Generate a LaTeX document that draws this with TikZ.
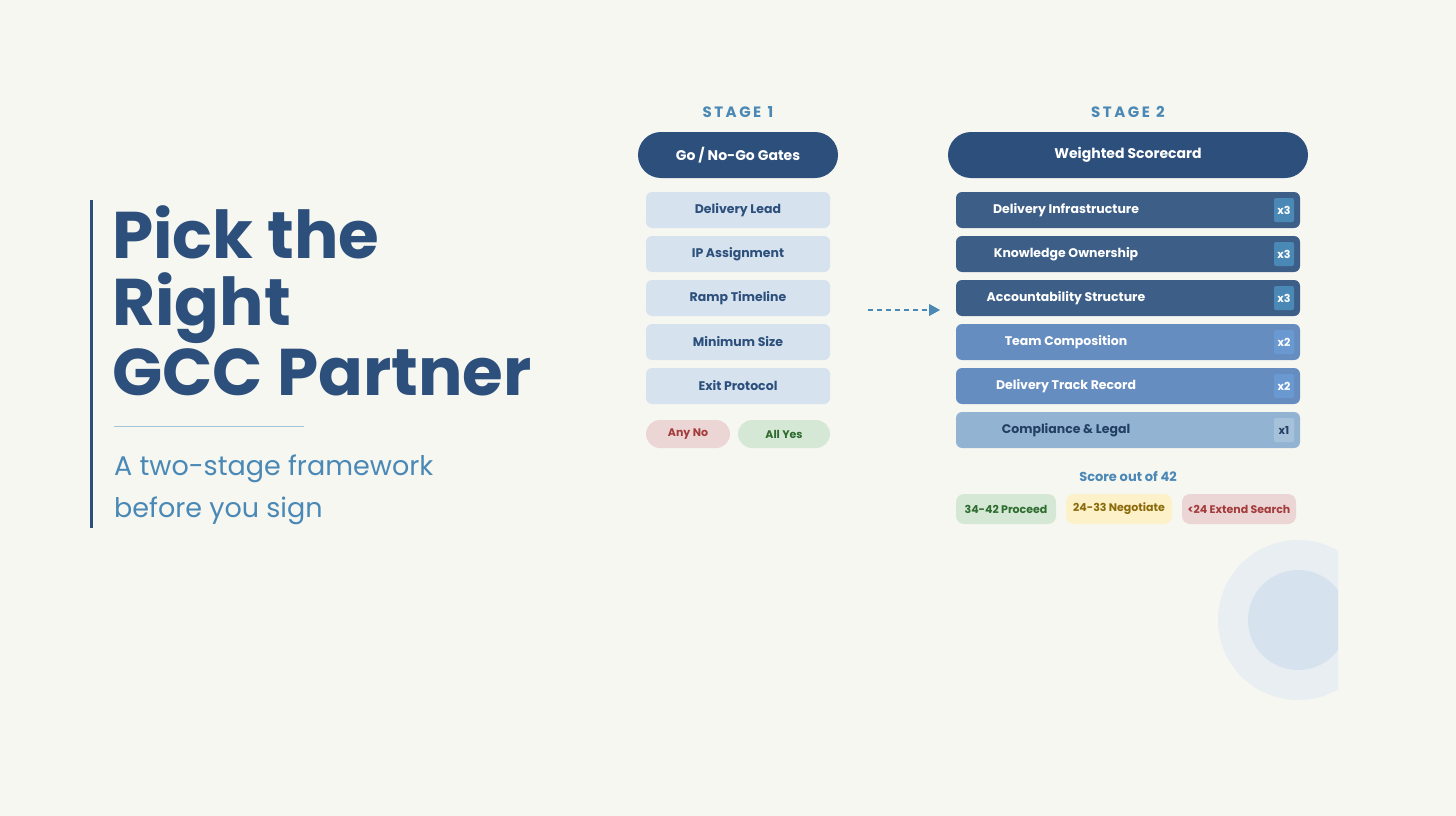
\documentclass[tikz,border=0pt]{standalone}
\usepackage{fontspec}
\setmainfont{Poppins}
\usetikzlibrary{arrows.meta}
\begin{document}
\begin{tikzpicture}[x=1pt,y=-1pt,
  gate/.style={rounded corners=6pt,fill=gatefill,text=navy,font=\fontsize{12.5}{14}\selectfont\bfseries,minimum width=184pt,minimum height=36pt,inner sep=0pt},
  pillhead/.style={rounded corners=23pt,fill=navy,text=white,font=\fontsize{14}{16}\selectfont\bfseries,minimum height=46pt,inner sep=0pt},
  row/.style={rounded corners=6pt,minimum width=344pt,minimum height=36pt,inner sep=0pt},
  rowtxt/.style={font=\fontsize{12.5}{14}\selectfont\bfseries},
  badge/.style={rounded corners=2pt,minimum width=20pt,minimum height=24pt,inner sep=0pt,font=\fontsize{11}{12}\selectfont\bfseries},
  tag/.style={rounded corners=8pt,minimum height=30pt,inner sep=0pt,font=\fontsize{11}{12}\selectfont\bfseries},
  stage/.style={text=midblue,font=\fontsize{15}{16}\selectfont\bfseries}]
\definecolor{bg}{HTML}{F7F7F2}
\definecolor{navy}{HTML}{2C4F7C}
\definecolor{midblue}{HTML}{4A88B5}
\definecolor{gatefill}{HTML}{D6E3EF}
\definecolor{rdark}{HTML}{3D5F87}
\definecolor{rmid}{HTML}{668DC0}
\definecolor{rlight}{HTML}{92B4D2}
\definecolor{bdark}{HTML}{4A88B5}
\definecolor{bmid}{HTML}{6A98D0}
\definecolor{blight}{HTML}{A6C2DB}
\definecolor{redf}{HTML}{ECD5D5}\definecolor{redt}{HTML}{A33B3B}
\definecolor{grnf}{HTML}{D5E8D5}\definecolor{grnt}{HTML}{2E6B2E}
\definecolor{yelf}{HTML}{FCF1C8}\definecolor{yelt}{HTML}{8A6A0A}
\fill[bg] (0,0) rectangle (1456,816);
\useasboundingbox (0,0) rectangle (1456,816);
% circles
\begin{scope}
\clip (1150,500) rectangle (1338,720);
\fill[color=gatefill!45!bg] (1298,620) circle (80);
\fill[color=gatefill] (1298,620) circle (50);
\end{scope}
% left
\fill[navy] (90,200) rectangle (93,528);
\node[anchor=base west,text=navy,font=\fontsize{66}{68}\selectfont\bfseries,inner sep=0pt] (t1) at (112,258) {Pick the};
\node[anchor=base west,text=navy,font=\fontsize{66}{68}\selectfont\bfseries,inner sep=0pt] (t2) at (112,325) {Right};
\node[anchor=base west,text=navy,font=\fontsize{66}{68}\selectfont\bfseries,inner sep=0pt] (t3) at (112,395) {GCC Partner};
\draw[midblue!50,line width=0.8pt] (114,426) -- (304,426);
\node[anchor=base west,text=midblue,font=\fontsize{27}{30}\selectfont,inner sep=0pt] (s1) at (114,475) {A two-stage framework};
\node[anchor=base west,text=midblue,font=\fontsize{27}{30}\selectfont,inner sep=0pt] (s2) at (114,517) {before you sign};
% stage 1
\node[stage] (st1) at (738,112) {S\,T\,A\,G\,E\ \ 1};
\node[pillhead,minimum width=200pt] (h1) at (738,155) {Go / No-Go Gates};
\node[gate] (g1) at (738,210) {Delivery Lead};
\node[gate] (g2) at (738,254) {IP Assignment};
\node[gate] (g3) at (738,298) {Ramp Timeline};
\node[gate] (g4) at (738,342) {Minimum Size};
\node[gate] (g5) at (738,386) {Exit Protocol};
\node[tag,rounded corners=14pt,minimum width=84pt,fill=redf,text=redt,minimum height=28pt] (no) at (688,434) {Any No};
\node[tag,rounded corners=14pt,minimum width=92pt,fill=grnf,text=grnt,minimum height=28pt] (yes) at (784,434) {All Yes};
% arrow
\coordinate (a0) at (868,310);
\coordinate (a1) at (929,310);
\coordinate (a2) at (940,310);
\draw[midblue,line width=1.6pt,dash pattern=on 5pt off 4pt] (a0) -- (a1);
\draw[midblue,line width=1pt,-{Triangle[length=11pt,width=12pt]}] (a1) -- (a2);
% stage 2
\node[stage] (st2) at (1128,112) {S\,T\,A\,G\,E\ \ 2};
\node[pillhead,minimum width=360pt] (h2) at (1128,155) {Weighted Scorecard};
\foreach \i/\y/\f/\b/\tc/\lab/\w in {1/210/rdark/bdark/white/Delivery Infrastructure/x3,2/254/rdark/bdark/white/Knowledge Ownership/x3,3/298/rdark/bdark/white/Accountability Structure/x3,4/342/rmid/bmid/white/Team Composition/x2,5/386/rmid/bmid/white/Delivery Track Record/x2,6/430/rlight/blight/navy!80!black/Compliance \& Legal/x1}{
  \node[row,fill=\f] (r\i) at (1128,\y) {};
  \node[rowtxt,text=\tc] (rl\i) at (1066,\y) {\lab};
  \node[badge,fill=\b,text=\tc] (b\i) at (1284,\y) {\w};
}
\node[text=midblue,font=\fontsize{13}{14}\selectfont\bfseries] (sc) at (1128,476) {Score out of 42};
\node[tag,minimum width=100pt,fill=grnf,text=grnt] (p1) at (1006,509) {34-42 Proceed};
\node[tag,minimum width=106pt,fill=yelf,text=yelt] (p2) at (1119,509) {24-33 Negotiate};
\node[tag,minimum width=114pt,fill=redf,text=redt] (p3) at (1239,509) {<24 Extend Search};
\end{tikzpicture}
\end{document}
